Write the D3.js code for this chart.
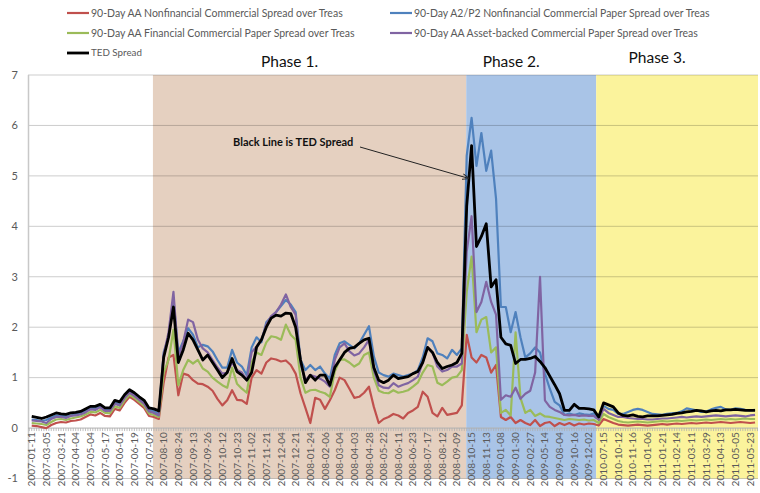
<html>
<head>
  <meta charset="utf-8">
  <script src="https://d3js.org/d3.v7.min.js"></script>
  <style>
    body { margin: 0; background: #fff; }
    svg { display: block; }
    svg text { font-family: Lato, "Open Sans", sans-serif; }
  </style>
</head>
<body>
<script>
// tick labels, one every 3 categories
var tickLabels = ["2007-01-11","2007-03-05","2007-03-21","2007-04-04","2007-05-04","2007-05-17","2007-06-01","2007-06-19","2007-07-09",
  "2007-08-10","2007-08-24","2007-09-13","2007-09-26","2007-10-12","2007-10-23","2007-11-02","2007-11-21","2007-12-04","2007-12-21",
  "2008-01-24","2008-02-06","2008-03-04","2008-04-03","2008-04-28","2008-05-22","2008-06-11","2008-06-23","2008-07-17","2008-08-12",
  "2008-09-09","2008-10-15","2008-11-13","2009-01-08","2009-01-30","2009-02-27","2009-05-14","2009-08-04","2009-10-16","2009-12-02",
  "2010-07-15","2010-10-12","2010-11-16","2011-01-06","2011-01-21","2011-02-14","2011-03-11","2011-03-29","2011-04-13","2011-05-05","2011-05-23"];
var perLabel = 3;

var nonfinAA = [0.05,0.04,0.02,0.00,0.06,0.10,0.12,0.11,0.14,0.15,0.17,0.22,0.27,0.25,0.30,0.24,0.23,0.38,0.35,0.50,0.62,0.56,0.48,0.40,0.24,0.22,0.18,
  0.90,1.40,1.45,0.65,1.08,1.05,0.95,0.88,0.87,0.82,0.74,0.58,0.45,0.55,0.75,0.56,0.55,0.48,1.00,1.15,1.08,1.30,1.38,1.36,1.32,1.34,1.25,1.08,0.69,0.40,
  0.10,0.60,0.56,0.38,0.55,0.75,1.00,0.95,0.78,0.60,0.62,0.70,0.82,0.42,0.10,0.18,0.22,0.28,0.25,0.19,0.30,0.35,0.42,0.72,0.62,0.30,0.23,0.40,0.26,0.28,0.30,0.45,
  1.85,1.40,1.30,1.45,1.40,1.10,1.25,0.22,0.16,0.22,0.10,0.16,0.10,0.06,0.16,0.04,0.10,0.12,0.04,0.10,0.06,0.10,0.05,0.09,0.07,0.09,0.08,0.05,
  0.18,0.14,0.10,0.07,0.06,0.05,0.06,0.07,0.06,0.05,0.06,0.07,0.08,0.07,0.08,0.09,0.08,0.09,0.10,0.09,0.10,0.11,0.10,0.11,0.12,0.11,0.10,0.11,0.12,0.11,0.10,0.11];

var a2p2 = [0.17,0.16,0.14,0.16,0.21,0.25,0.24,0.23,0.25,0.28,0.30,0.35,0.40,0.39,0.44,0.37,0.38,0.50,0.48,0.62,0.72,0.66,0.58,0.50,0.36,0.33,0.28,
  1.50,1.82,2.55,1.50,1.72,1.98,1.85,1.60,1.65,1.62,1.52,1.35,1.20,1.20,1.55,1.30,1.22,1.05,1.60,1.80,1.70,2.10,2.20,2.30,2.42,2.54,2.45,2.30,1.35,1.15,
  1.25,1.15,1.22,1.08,0.98,1.45,1.68,1.72,1.65,1.58,1.68,1.85,2.02,1.42,1.10,1.05,1.02,1.08,1.05,1.02,1.05,1.08,1.15,1.40,1.78,1.72,1.48,1.45,1.38,1.55,1.45,1.58,
  5.40,6.15,5.20,5.85,5.10,5.50,4.55,2.40,2.40,1.90,2.30,1.80,1.40,1.48,1.60,1.50,1.08,0.78,0.52,0.45,0.26,0.29,0.26,0.29,0.27,0.26,0.29,0.19,
  0.44,0.38,0.36,0.28,0.28,0.32,0.36,0.38,0.36,0.32,0.28,0.27,0.26,0.28,0.29,0.30,0.33,0.39,0.37,0.35,0.32,0.33,0.37,0.40,0.42,0.37,0.36,0.39,0.38,0.36,0.35,0.36];

var finAA = [0.10,0.09,0.08,0.06,0.12,0.17,0.18,0.16,0.19,0.21,0.23,0.27,0.32,0.31,0.36,0.30,0.29,0.43,0.40,0.55,0.66,0.60,0.52,0.44,0.29,0.26,0.22,
  1.10,1.35,1.95,0.85,1.15,1.35,1.28,1.35,1.18,1.12,1.00,0.92,0.85,0.80,1.20,0.88,0.78,0.70,1.30,1.50,1.45,1.70,1.82,1.80,1.75,2.05,1.85,1.75,1.00,0.70,
  0.75,0.76,0.72,0.69,0.62,1.12,1.35,1.36,1.30,1.22,1.28,1.45,1.50,1.00,0.74,0.70,0.69,0.75,0.70,0.72,0.75,0.82,0.90,1.10,1.25,1.22,0.90,0.85,0.92,1.00,1.02,1.15,
  2.70,3.40,1.90,2.15,2.20,1.50,1.60,0.30,0.36,0.25,1.90,0.60,0.30,0.36,0.24,0.29,0.23,0.22,0.20,0.18,0.16,0.18,0.17,0.16,0.17,0.15,0.16,0.10,
  0.28,0.22,0.18,0.14,0.12,0.11,0.12,0.13,0.12,0.11,0.12,0.13,0.14,0.13,0.14,0.15,0.14,0.15,0.16,0.15,0.16,0.17,0.16,0.17,0.18,0.17,0.18,0.17,0.18,0.19,0.18,0.18];

var assetAA = [0.15,0.14,0.13,0.10,0.18,0.22,0.22,0.20,0.24,0.25,0.27,0.31,0.37,0.36,0.41,0.34,0.34,0.48,0.45,0.60,0.70,0.64,0.56,0.48,0.33,0.30,0.25,
  1.45,1.90,2.70,1.40,1.70,2.15,2.10,1.75,1.58,1.50,1.35,1.20,1.08,1.10,1.30,1.15,1.10,0.95,1.50,1.62,1.75,2.05,2.22,2.30,2.45,2.65,2.40,2.25,1.28,0.95,
  1.05,1.02,0.98,0.92,0.82,1.35,1.60,1.68,1.52,1.44,1.48,1.60,1.75,1.15,0.85,0.80,0.79,0.89,0.82,0.86,0.89,0.95,1.02,1.30,1.60,1.50,1.22,1.12,1.15,1.22,1.22,1.28,
  3.50,4.20,2.30,2.50,2.90,2.50,2.25,0.56,0.65,0.62,0.80,0.58,0.68,0.74,1.10,3.00,0.55,0.42,0.36,0.32,0.26,0.25,0.26,0.24,0.25,0.24,0.24,0.16,
  0.38,0.30,0.26,0.22,0.22,0.20,0.19,0.18,0.18,0.17,0.17,0.18,0.19,0.19,0.20,0.21,0.22,0.21,0.22,0.23,0.22,0.23,0.24,0.25,0.24,0.23,0.24,0.25,0.24,0.23,0.25,0.26];

var ted = [0.23,0.21,0.19,0.22,0.26,0.30,0.28,0.27,0.30,0.31,0.33,0.38,0.43,0.43,0.47,0.40,0.40,0.55,0.52,0.66,0.76,0.70,0.62,0.55,0.40,0.38,0.34,
  1.40,1.80,2.40,1.30,1.55,1.88,1.75,1.55,1.35,1.45,1.30,1.15,1.00,1.10,1.38,1.12,1.05,0.95,1.10,1.60,1.75,2.00,2.18,2.24,2.22,2.28,2.27,2.00,1.35,0.90,
  1.05,0.95,1.05,1.05,0.85,1.20,1.35,1.50,1.58,1.60,1.68,1.75,1.78,1.20,0.95,0.90,0.95,1.05,0.98,1.00,1.02,1.08,1.12,1.30,1.60,1.50,1.30,1.18,1.22,1.25,1.30,1.48,
  4.40,5.60,3.60,3.80,4.05,2.80,2.94,1.80,1.67,1.64,1.28,1.36,1.36,1.38,1.42,1.32,1.20,1.03,0.86,0.68,0.35,0.35,0.47,0.39,0.39,0.38,0.36,0.22,
  0.50,0.46,0.42,0.30,0.25,0.24,0.26,0.23,0.22,0.24,0.24,0.24,0.25,0.26,0.27,0.29,0.30,0.32,0.33,0.35,0.34,0.32,0.34,0.35,0.34,0.36,0.36,0.37,0.36,0.35,0.35,0.35];

// phases in category index units
var phaseNames = ["Phase 1.", "Phase 2.", "Phase 3."];
var phaseStart = [24.8, 88.9, 115.5];
var phaseEnd = [88.9, 115.5, 148.6];

var series = [
  {name: "90-Day AA Nonfinancial Commercial Spread over Treas", values: nonfinAA, color: "#C0504D", w: 2.2},
  {name: "90-Day A2/P2 Nonfinancial Commercial Paper Spread over Treas", values: a2p2, color: "#4F81BD", w: 2.2},
  {name: "90-Day AA Financial Commercial Paper Spread over Treas", values: finAA, color: "#9BBB59", w: 2.2},
  {name: "90-Day AA Asset-backed Commercial Paper Spread over Treas", values: assetAA, color: "#8064A2", w: 2.2},
  {name: "TED Spread", values: ted, color: "#000000", w: 2.8}
];
var phaseColors = ["#E5D0C0", "#A9C4E7", "#FBF39C"];
// legend text widths measured on the original
var legendWidths = [252, 296, 264, 284, 51];

var svg = d3.select("body").append("svg")
  .attr("width", 760)
  .attr("height", 493);

var x = d3.scaleLinear().domain([-0.76, 148.6]).range([28, 758]);
var y = d3.scaleLinear().domain([-1, 7]).range([478.5, 75]);

// phase backgrounds
svg.selectAll("rect.phase")
  .data(phaseNames)
  .enter().append("rect")
  .attr("x", (d, i) => x(phaseStart[i]))
  .attr("width", (d, i) => x(phaseEnd[i]) - x(phaseStart[i]))
  .attr("y", y(7))
  .attr("height", y(-1) - y(7))
  .attr("fill", (d, i) => phaseColors[i]);

// gridlines
svg.selectAll("line.grid")
  .data([-1, 1, 2, 3, 4, 5, 6, 7])
  .enter().append("line")
  .attr("x1", 28).attr("x2", 758)
  .attr("y1", d => y(d)).attr("y2", d => y(d))
  .attr("stroke", "#000").attr("stroke-opacity", 0.2).attr("stroke-width", 1);

// y axis
svg.append("line")
  .attr("x1", 28.5).attr("x2", 28.5)
  .attr("y1", y(7)).attr("y2", y(-1))
  .attr("stroke", "#c8c8c8").attr("stroke-width", 1.5);

svg.selectAll("text.ylab")
  .data(d3.range(-1, 8))
  .enter().append("text")
  .attr("x", 18).attr("y", d => y(d))
  .attr("dy", "0.35em")
  .attr("text-anchor", "end")
  .attr("font-size", 11)
  .attr("fill", "#595959")
  .text(d => d);

// x axis at zero
svg.append("line")
  .attr("x1", 28).attr("x2", 758)
  .attr("y1", y(0)).attr("y2", y(0))
  .attr("stroke", "#b0b0b0").attr("stroke-width", 1);

svg.selectAll("line.minor")
  .data(d3.range(-0.5, 148.6, 0.5))
  .enter().append("line")
  .attr("x1", d => x(d)).attr("x2", d => x(d))
  .attr("y1", y(0)).attr("y2", y(0) + 3)
  .attr("stroke", "#b0b0b0").attr("stroke-width", 0.8);

svg.selectAll("text.xlab")
  .data(tickLabels)
  .enter().append("text")
  .attr("transform", (d, i) => "translate(" + x(i * perLabel) + "," + (y(0) + 4) + ") rotate(-90)")
  .attr("dy", "0.35em")
  .attr("text-anchor", "end")
  .attr("font-size", 10.1)
  .attr("fill", "#595959")
  .text(d => d);

// lines
var line = d3.line()
  .x((d, i) => x(i))
  .y(d => y(d));

svg.selectAll("path.series")
  .data(series)
  .enter().append("path")
  .attr("d", d => line(d.values))
  .attr("fill", "none")
  .attr("stroke", d => d.color)
  .attr("stroke-width", d => d.w)
  .attr("stroke-linejoin", "round");

// phase titles
var phaseLabelY = [66.5, 66.5, 62.5];
svg.selectAll("text.phase")
  .data(phaseNames)
  .enter().append("text")
  .attr("x", (d, i) => (x(phaseStart[i]) + x(phaseEnd[i])) / 2 - 20)
  .attr("y", (d, i) => phaseLabelY[i])
  .attr("text-anchor", "middle")
  .attr("font-size", 15.5)
  .attr("fill", "#111")
  .text(d => d);

// legend
var legend = svg.selectAll("g.legend")
  .data(series)
  .enter().append("g")
  .attr("transform", (d, i) => "translate(" + (i % 2 ? 390 : 67) + "," + (13 + Math.floor(i / 2) * 20) + ")");

legend.append("line")
  .attr("x1", 0).attr("x2", 22)
  .attr("stroke", d => d.color)
  .attr("stroke-width", d => d.w);

legend.append("text")
  .attr("x", 24)
  .attr("dy", "0.35em")
  .attr("font-size", 10.5)
  .attr("fill", "#595959")
  .text(d => d.name)
  .each(function(d, i) {
    var len = this.getComputedTextLength();
    var fs = Math.max(9.5, Math.min(12.5, 10.5 * legendWidths[i] / len));
    d3.select(this).attr("font-size", fs);
  });

// annotation
svg.append("defs").append("marker")
  .attr("id", "arr")
  .attr("viewBox", "0 0 10 10")
  .attr("refX", 9).attr("refY", 5)
  .attr("markerWidth", 7).attr("markerHeight", 7)
  .attr("orient", "auto")
  .append("path")
  .attr("d", "M0,1 L10,5 L0,9")
  .attr("fill", "none")
  .attr("stroke", "#222")
  .attr("stroke-width", 1.3);

svg.append("line")
  .attr("x1", 360).attr("y1", 147)
  .attr("x2", x(89.4)).attr("y2", y(4.95))
  .attr("stroke", "#222").attr("stroke-width", 1)
  .attr("marker-end", "url(#arr)");

svg.append("text")
  .attr("x", 233).attr("y", 146)
  .attr("font-size", 11)
  .attr("font-weight", "bold")
  .attr("fill", "#111")
  .text("Black Line is TED Spread");
</script>
</body>
</html>
